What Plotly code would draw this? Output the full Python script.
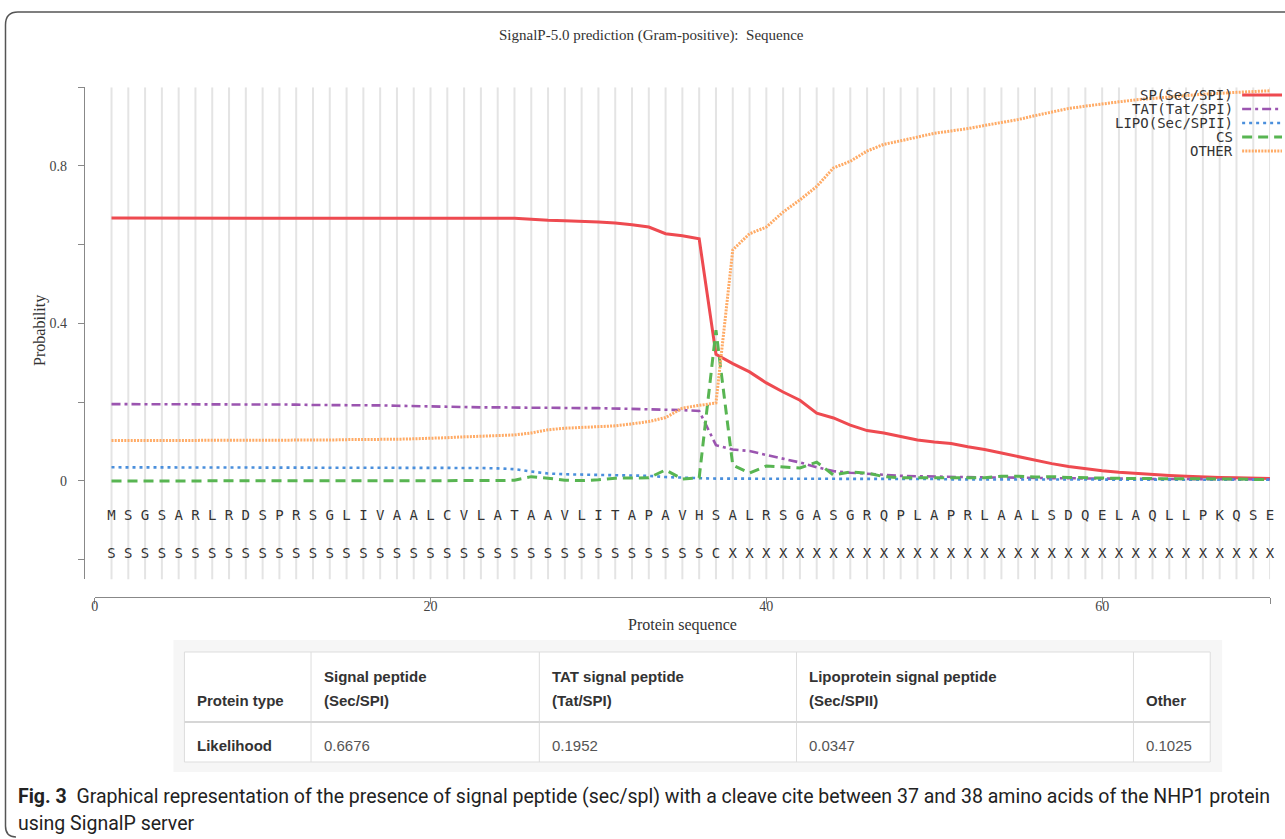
import plotly.graph_objects as go

W, H = 1285, 839

positions = list(range(1, 71))
sequence = list("MSGSARLRDSPRSGLIVAALCVLATAAVLITAPAVHSALRSGASGRQPLAPRLAALSDQELAQLLPKQSE")
labels = list("SSSSSSSSSSSSSSSSSSSSSSSSSSSSSSSSSSSSCXXXXXXXXXXXXXXXXXXXXXXXXXXXXXXXXX")

sp = [0.6676, 0.6676, 0.6676, 0.6676, 0.6676, 0.6676, 0.6676, 0.6676, 0.6676, 0.6676,
      0.6676, 0.6676, 0.6676, 0.6676, 0.6676, 0.6676, 0.6676, 0.6676, 0.6676, 0.6676,
      0.6674, 0.6672, 0.6670, 0.6670, 0.667, 0.665, 0.662, 0.661, 0.660, 0.658,
      0.655, 0.651, 0.645, 0.628, 0.623, 0.615, 0.322, 0.298, 0.277, 0.249,
      0.226, 0.205, 0.172, 0.160, 0.142, 0.128, 0.122, 0.113, 0.104, 0.099,
      0.095, 0.087, 0.080, 0.071, 0.062, 0.053, 0.044, 0.037, 0.031, 0.026,
      0.022, 0.019, 0.016, 0.014, 0.012, 0.010, 0.009, 0.008, 0.007, 0.006]

tat = [0.1952, 0.1952, 0.1952, 0.1952, 0.1952, 0.1952, 0.1952, 0.1950, 0.1948, 0.1946,
       0.194, 0.194, 0.193, 0.193, 0.193, 0.192, 0.192, 0.191, 0.190, 0.189,
       0.188, 0.188, 0.187, 0.187, 0.186, 0.186, 0.186, 0.185, 0.185, 0.185,
       0.184, 0.184, 0.183, 0.181, 0.180, 0.178, 0.091, 0.080, 0.076, 0.066,
       0.057, 0.047, 0.035, 0.025, 0.021, 0.018, 0.015, 0.013, 0.012, 0.011,
       0.010, 0.010, 0.009, 0.009, 0.008, 0.008, 0.007, 0.007, 0.006, 0.006,
       0.006, 0.005, 0.005, 0.005, 0.005, 0.004, 0.004, 0.004, 0.004, 0.004]

lipo = [0.0347, 0.0347, 0.0347, 0.0347, 0.0347, 0.0347, 0.0347, 0.0347, 0.0347, 0.0347,
        0.0346, 0.0346, 0.0345, 0.0345, 0.0345, 0.0344, 0.0344, 0.0343, 0.0342, 0.0341,
        0.034, 0.034, 0.033, 0.032, 0.030, 0.024, 0.019, 0.017, 0.016, 0.015,
        0.015, 0.014, 0.013, 0.010, 0.008, 0.007, 0.006, 0.006, 0.005, 0.005,
        0.005, 0.005, 0.005, 0.005, 0.005, 0.005, 0.005, 0.005, 0.005, 0.005,
        0.004, 0.004, 0.004, 0.004, 0.004, 0.004, 0.004, 0.004, 0.004, 0.004,
        0.004, 0.004, 0.003, 0.003, 0.003, 0.003, 0.003, 0.003, 0.003, 0.003]

cs = [0.000, 0.000, 0.000, 0.000, 0.000, 0.000, 0.000, 0.000, 0.000, 0.000,
      0.000, 0.000, 0.000, 0.000, 0.000, 0.000, 0.000, 0.000, 0.000, 0.001,
      0.001, 0.001, 0.001, 0.001, 0.002, 0.011, 0.007, 0.002, 0.001, 0.003,
      0.007, 0.008, 0.008, 0.028, 0.005, 0.008, 0.383, 0.040, 0.020, 0.038,
      0.036, 0.033, 0.048, 0.015, 0.023, 0.020, 0.011, 0.008, 0.008, 0.008,
      0.007, 0.007, 0.008, 0.012, 0.012, 0.010, 0.011, 0.009, 0.008, 0.008,
      0.007, 0.006, 0.006, 0.006, 0.005, 0.005, 0.005, 0.005, 0.004, 0.004]

other = [0.1025, 0.1025, 0.1025, 0.1025, 0.1025, 0.1025, 0.1025, 0.1027, 0.1029, 0.1031,
         0.103, 0.103, 0.104, 0.104, 0.105, 0.105, 0.106, 0.106, 0.107, 0.108,
         0.110, 0.112, 0.114, 0.115, 0.117, 0.122, 0.130, 0.134, 0.136, 0.138,
         0.140, 0.145, 0.151, 0.161, 0.185, 0.192, 0.198, 0.587, 0.628, 0.645,
         0.683, 0.714, 0.748, 0.795, 0.812, 0.838, 0.855, 0.864, 0.874, 0.883,
         0.889, 0.895, 0.903, 0.911, 0.918, 0.928, 0.937, 0.946, 0.952, 0.958,
         0.963, 0.968, 0.972, 0.976, 0.979, 0.982, 0.985, 0.987, 0.989, 0.991]

series_names = ["SP(Sec/SPI)", "TAT(Tat/SPI)", "LIPO(Sec/SPII)", "CS", "OTHER"]
series_values = [sp, tat, lipo, cs, other]
series_colors = ["#ee4a50", "#9b55b0", "#4a8fdc", "#58b552", "#ffab66"]
series_dash = ["solid", "9px,4px,3px,4px", "3px,4px", "10px,6px", "2px,1.2px"]
series_width = [3, 2.6, 2.6, 3, 3]

x_ticks = [0, 20, 40, 60, 70]
x_ticktext = ["0", "20", "40", "60", ""]
y_ticks = [-0.2, 0, 0.2, 0.4, 0.6, 0.8, 1.0]
y_ticktext = ["", "0", "", "0.4", "", "0.8", ""]

table_header = [["", "Protein type"], ["Signal peptide", "(Sec/SPI)"], ["TAT signal peptide", "(Tat/SPI)"],
                ["Lipoprotein signal peptide", "(Sec/SPII)"], ["", "Other"]]
table_row = ["Likelihood", "0.6676", "0.1952", "0.0347", "0.1025"]

title_text = "SignalP-5.0 prediction (Gram-positive):  Sequence"
caption_1 = "<b>Fig. 3</b>  Graphical representation of the presence of signal peptide (sec/spl) with a cleave cite between 37 and 38 amino acids of the NHP1 protein"
caption_2 = "using SignalP server"


def X(px):
    return px / W


def Y(py):
    return 1 - py / H


SERIF = "Liberation Serif, Times New Roman, serif"
MONO = "DejaVu Sans Mono, monospace"
SANS = "Liberation Sans, Arial, sans-serif"

fig = go.Figure()

for name, vals, col, dash, wd in zip(series_names, series_values, series_colors, series_dash, series_width):
    fig.add_trace(go.Scatter(x=positions, y=vals, mode="lines", name=name,
                             line=dict(color=col, dash=dash, width=wd),
                             showlegend=False, hoverinfo="skip"))

fig.add_trace(go.Scatter(x=positions, y=[-0.09] * len(positions), mode="text", text=sequence,
                         textfont=dict(family=MONO, size=14, color="#333"),
                         showlegend=False, hoverinfo="skip", cliponaxis=False))
fig.add_trace(go.Scatter(x=positions, y=[-0.188] * len(positions), mode="text", text=labels,
                         textfont=dict(family=MONO, size=14, color="#333"),
                         showlegend=False, hoverinfo="skip", cliponaxis=False))

shapes = []
for p in positions:
    shapes.append(dict(type="line", xref="x", yref="y", x0=p, x1=p, y0=-0.25, y1=1.0,
                       line=dict(color="#e4e4e4", width=2), layer="below"))

# legend samples
legend_rows = [95, 109, 123, 137, 151]
annotations = []
for name, col, dash, wd, ry in zip(series_names, series_colors, series_dash, series_width, legend_rows):
    annotations.append(dict(x=X(1235), y=Y(ry), xref="paper", yref="paper", text=name,
                            showarrow=False, xanchor="right", yanchor="middle",
                            font=dict(family=MONO, size=14, color="#333")))
    shapes.append(dict(type="line", xref="paper", yref="paper", x0=X(1242), x1=X(1282),
                       y0=Y(ry), y1=Y(ry), line=dict(color=col, dash=dash, width=wd)))

# title and axis titles
annotations.append(dict(x=X(650), y=Y(36), xref="paper", yref="paper", text=title_text,
                        showarrow=False, xanchor="center", yanchor="middle",
                        font=dict(family=SERIF, size=15, color="#333")))
annotations.append(dict(x=X(36), y=Y(330), xref="paper", yref="paper", text="Probability",
                        showarrow=False, textangle=-90, xanchor="center", yanchor="middle",
                        font=dict(family=SERIF, size=16, color="#333")))
annotations.append(dict(x=X(681), y=Y(625), xref="paper", yref="paper", text="Protein sequence",
                        showarrow=False, xanchor="center", yanchor="middle",
                        font=dict(family=SERIF, size=16, color="#333")))

# table panel
shapes.append(dict(type="rect", xref="paper", yref="paper", x0=X(170), x1=X(1222), y0=Y(772), y1=Y(640),
                   fillcolor="#f6f6f6", line=dict(width=0), layer="below"))
col_edges = [181, 308, 537, 795, 1133, 1210]
t_top, t_mid, t_bot = 652, 722, 762
shapes.append(dict(type="rect", xref="paper", yref="paper", x0=X(col_edges[0]), x1=X(col_edges[-1]),
                   y0=Y(t_bot), y1=Y(t_top), fillcolor="white", line=dict(color="#dddddd", width=1),
                   layer="below"))
for ce in col_edges[1:-1]:
    shapes.append(dict(type="line", xref="paper", yref="paper", x0=X(ce), x1=X(ce), y0=Y(t_bot), y1=Y(t_top),
                       line=dict(color="#dddddd", width=1)))
shapes.append(dict(type="line", xref="paper", yref="paper", x0=X(col_edges[0]), x1=X(col_edges[-1]),
                   y0=Y(t_mid), y1=Y(t_mid), line=dict(color="#d6d6d6", width=2)))
for i, (hdr, val) in enumerate(zip(table_header, table_row)):
    left = col_edges[i] + 11
    for line_text, ly in zip(hdr, [676, 700]):
        if line_text:
            annotations.append(dict(x=X(left), y=Y(ly), xref="paper", yref="paper", text="<b>" + line_text + "</b>",
                                    showarrow=False, xanchor="left", yanchor="middle",
                                    font=dict(family=SANS, size=15, color="#333")))
    annotations.append(dict(x=X(left), y=Y(745), xref="paper", yref="paper",
                            text=("<b>" + val + "</b>") if i == 0 else val,
                            showarrow=False, xanchor="left", yanchor="middle",
                            font=dict(family=SANS, size=15, color="#333" if i == 0 else "#555")))

# caption
annotations.append(dict(x=X(12), y=Y(796), xref="paper", yref="paper", text=caption_1,
                        showarrow=False, xanchor="left", yanchor="middle",
                        font=dict(family="Roboto, sans-serif", size=19.5, color="#222")))
annotations.append(dict(x=X(12), y=Y(823), xref="paper", yref="paper", text=caption_2,
                        showarrow=False, xanchor="left", yanchor="middle",
                        font=dict(family="Roboto, sans-serif", size=19.5, color="#222")))

# outer frame
frame_path = (f"M {X(1285)},{Y(12)} L {X(14)},{Y(12)} Q {X(1.5)},{Y(12)} {X(1.5)},{Y(25)} "
              f"L {X(1.5)},{Y(826)} Q {X(1.5)},{Y(837)} {X(12)},{Y(837)}")
shapes.append(dict(type="path", xref="paper", yref="paper", path=frame_path,
                   line=dict(color="#555", width=1.5)))

fig.update_layout(
    width=W, height=H,
    margin=dict(l=0, r=0, t=0, b=0),
    paper_bgcolor="white", plot_bgcolor="rgba(0,0,0,0)",
    shapes=shapes, annotations=annotations,
    xaxis=dict(domain=[X(91), X(1270)], range=[0, 70], anchor="free", position=Y(597),
               showline=True, linecolor="#888", linewidth=1, ticks="outside", ticklen=6,
               tickcolor="#888", tickvals=x_ticks, ticktext=x_ticktext, showgrid=False, zeroline=False,
               ticklabelstandoff=-10, tickfont=dict(family=SERIF, size=14, color="#444")),
    yaxis=dict(domain=[Y(579.4), Y(87.25)], range=[-0.25, 1.0], anchor="free", position=X(80),
               showline=True, linecolor="#888", linewidth=1, ticks="outside", ticklen=6,
               tickcolor="#888", tickvals=y_ticks, ticktext=y_ticktext, showgrid=False, zeroline=False,
               ticklabelstandoff=8, tickfont=dict(family=SERIF, size=14, color="#444")),
)

fig.write_html("out.html", config={"displayModeBar": False},
               post_script="document.body.style.margin='0';document.body.style.overflow='hidden';")
